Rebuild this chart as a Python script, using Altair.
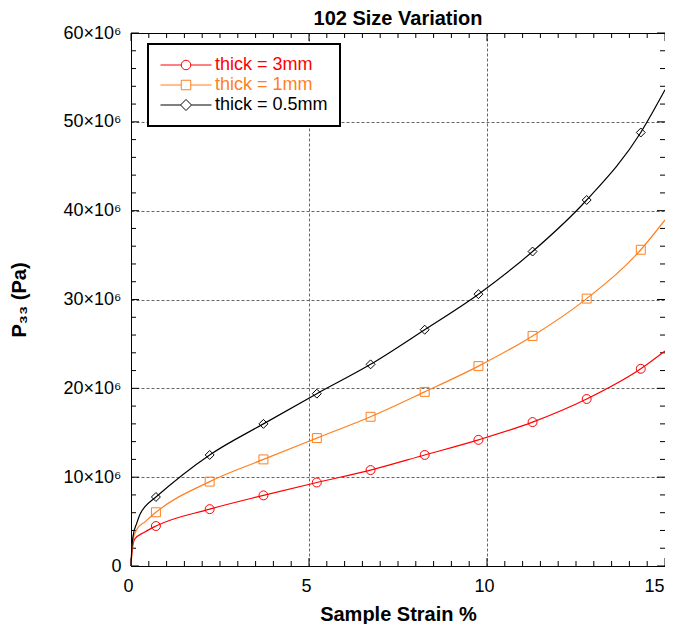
import altair as alt
import pandas as pd

FONT = "Liberation Sans"

SERIES = ["thick = 3mm", "thick = 1mm", "thick = 0.5mm"]
COLORS = ["#ff0000", "#ff7f1f", "#000000"]
SHAPES = ["circle", "square", "diamond"]

# marker positions (strain %) and values (units of 1e6 Pa)
MARK_X = [0.70, 2.21, 3.72, 5.22, 6.73, 8.25, 9.76, 11.28, 12.80, 14.32]
RED_MARK = [4.5, 6.4, 7.95, 9.4, 10.8, 12.5, 14.2, 16.2, 18.8, 22.2]
ORANGE_MARK = [6.05, 9.5, 12.0, 14.4, 16.8, 19.6, 22.5, 25.9, 30.1, 35.6]
BLACK_MARK = [7.77, 12.5, 16.0, 19.4, 22.7, 26.6, 30.6, 35.4, 41.2, 48.8]

# curve start (steep initial rise) and end points
RED_START_X = [0.0, 0.02, 0.05, 0.10, 0.40]
RED_START_Y = [0.0, 1.2, 2.3, 3.0, 3.85]
ORANGE_START_X = [0.0, 0.02, 0.06, 0.16, 0.40]
ORANGE_START_Y = [0.0, 1.6, 3.0, 4.1, 5.0]
BLACK_START_X = [0.0, 0.02, 0.06, 0.16, 0.25, 0.40]
BLACK_START_Y = [0.0, 1.8, 3.4, 4.8, 5.8, 6.7]
END_X = 15.0
RED_END = 24.2
ORANGE_END = 38.95
BLACK_END = 53.6

X_MAJOR = [0, 5, 10, 15]
Y_MAJOR = [0, 10e6, 20e6, 30e6, 40e6, 50e6, 60e6]
X_GRID = [5, 10]
Y_GRID = [10e6, 20e6, 30e6, 40e6, 50e6]
X_MINOR = [i * 0.5 for i in range(31) if i % 10 != 0]
Y_MINOR = [i * 2e6 for i in range(31) if i % 5 != 0]

W, H = 534, 533

series_data = [
    (SERIES[0], RED_START_X, RED_START_Y, RED_MARK, RED_END),
    (SERIES[1], ORANGE_START_X, ORANGE_START_Y, ORANGE_MARK, ORANGE_END),
    (SERIES[2], BLACK_START_X, BLACK_START_Y, BLACK_MARK, BLACK_END),
]

line_rows, mark_rows = [], []
for name, sx, sy, my, ey in series_data:
    xs = list(sx) + MARK_X + [END_X]
    ys = list(sy) + my + [ey]
    for x, y in zip(xs, ys):
        line_rows.append({"series": name, "x": x, "y": y * 1e6})
    for x, y in zip(MARK_X, my):
        mark_rows.append({"series": name, "x": x, "y": y * 1e6})

line_df = pd.DataFrame(line_rows)
mark_df = pd.DataFrame(mark_rows)

x_scale = alt.Scale(domain=[0, 15], nice=False, zero=False)
y_scale = alt.Scale(domain=[0, 60e6], nice=False, zero=False)
color_scale = alt.Scale(domain=SERIES, range=COLORS)
shape_scale = alt.Scale(domain=SERIES, range=SHAPES)

LEG_PATHS = [
    "M -5.1 0 L -0.95 0 M 0.95 0 L 5.1 0 M -0.95 0 A 0.95 0.95 0 1 0 0.95 0 A 0.95 0.95 0 1 0 -0.95 0",
    "M -5.1 0 L -0.95 0 M 0.95 0 L 5.1 0 M -0.95 -0.95 L 0.95 -0.95 L 0.95 0.95 L -0.95 0.95 Z",
    "M -5.1 0 L -1.1 0 M 1.1 0 L 5.1 0 M 0 -1.1 L 1.1 0 L 0 1.1 L -1.1 0 Z",
]
legend_shape_scale = alt.Scale(domain=SERIES, range=LEG_PATHS)

none_common = dict(title=None, labels=False, domain=False, ticks=False)

grid_layer = alt.Chart(mark_df).mark_point(opacity=0).encode(
    x=alt.X("x:Q", scale=x_scale,
            axis=alt.Axis(orient="bottom", values=X_GRID, grid=True, gridColor="#666666",
                          gridDash=[3, 2], gridWidth=1, **none_common)),
    y=alt.Y("y:Q", scale=y_scale,
            axis=alt.Axis(orient="left", values=Y_GRID, grid=True, gridColor="#666666",
                          gridDash=[3, 2], gridWidth=1, **none_common)),
)


def xticks(values, y0, y1):
    return alt.Chart(pd.DataFrame({"t": values})).mark_rule(color="black", strokeWidth=1).encode(
        x=alt.X("t:Q", scale=x_scale, axis=None), y=alt.value(y0), y2=alt.value(y1))


def yticks(values, x0, x1):
    return alt.Chart(pd.DataFrame({"t": values})).mark_rule(color="black", strokeWidth=1).encode(
        y=alt.Y("t:Q", scale=y_scale, axis=None), x=alt.value(x0), x2=alt.value(x1))


tick_layers = [
    xticks(X_MAJOR, H, H - 8), xticks(X_MINOR, H, H - 5),
    xticks(X_MAJOR, 0, 8), xticks(X_MINOR, 0, 5),
    yticks(Y_MAJOR, 0, 8), yticks(Y_MINOR, 0, 5),
    yticks(Y_MAJOR, W, W - 8), yticks(Y_MINOR, W, W - 5),
]

lines = alt.Chart(line_df).mark_line(strokeWidth=1.2, interpolate="monotone").encode(
    x=alt.X("x:Q", scale=x_scale,
            axis=alt.Axis(orient="bottom", values=X_MAJOR, title="Sample Strain %", ticks=False,
                          tickSize=0, domain=True, domainColor="black", labelFlush=False,
                          labelAlign={"condition": {"test": "datum.value == 15", "value": "right"},
                                      "value": "center"},
                          labelOffset={"condition": {"test": "datum.value == 15", "value": -1},
                                       "value": -3},
                          labelPadding=11, labelFontSize=18, titleFontSize=20,
                          titleFontWeight="bold", titlePadding=9, grid=False)),
    y=alt.Y("y:Q", scale=y_scale,
            axis=alt.Axis(orient="left", values=Y_MAJOR, title="P₃₃ (Pa)", ticks=False,
                          tickSize=0, domain=True, domainColor="black",
                          labelExpr="datum.value == 0 ? '0' : format(datum.value / 1e6, 'd') + '×10⁶'",
                          labelPadding=10, labelFontSize=18, titleFontSize=20,
                          titleFontWeight="bold", titlePadding=34, grid=False)),
    color=alt.Color("series:N", scale=color_scale, legend=None),
)

points = alt.Chart(mark_df).mark_point(filled=False, size=80, strokeWidth=1, opacity=1).encode(
    x=alt.X("x:Q", scale=x_scale, axis=None),
    y=alt.Y("y:Q", scale=y_scale, axis=None),
    color=alt.Color("series:N", scale=color_scale, legend=None),
    shape=alt.Shape("series:N", scale=shape_scale, legend=None),
)

legend_layer = alt.Chart(mark_df).mark_point(opacity=0, filled=False).encode(
    x=alt.X("x:Q", scale=x_scale, axis=None),
    y=alt.Y("y:Q", scale=y_scale, axis=None),
    shape=alt.Shape(
        "series:N", scale=legend_shape_scale,
        legend=alt.Legend(
            title=None, orient="none", legendX=17, legendY=11, padding=12,
            rowPadding=2, symbolSize=100, symbolStrokeWidth=1, symbolOffset=17,
            labelOffset=20, labelFontSize=18, labelFont=FONT, symbolOpacity=1,
            strokeColor="black", fillColor="white",
            symbolStrokeColor={"expr": "scale('color', datum.value)"},
            symbolFillColor="transparent",
            labelColor={"expr": "scale('color', datum.value)"},
        ),
    ),
)

chart = (
    alt.layer(grid_layer, *tick_layers, lines, points, legend_layer)
    .resolve_scale(shape="independent")
    .resolve_axis(x="independent", y="independent")
    .properties(
        width=W, height=H,
        autosize=alt.AutoSizeParams(type="none"),
        padding={"left": 123, "top": 25, "right": 0, "bottom": 58},
        title=alt.Title("102 Size Variation", fontSize=20, fontWeight="bold", font=FONT,
                        color="black", anchor="middle", frame="group", offset=5, dy=10),
    )
    .configure_view(stroke="black", strokeWidth=1)
    .configure_axis(labelFont=FONT, titleFont=FONT, labelColor="black", titleColor="black")
    .configure_legend(strokeWidth=2)
)

chart.save("out.html", embed_options={"renderer": "svg", "actions": False})
